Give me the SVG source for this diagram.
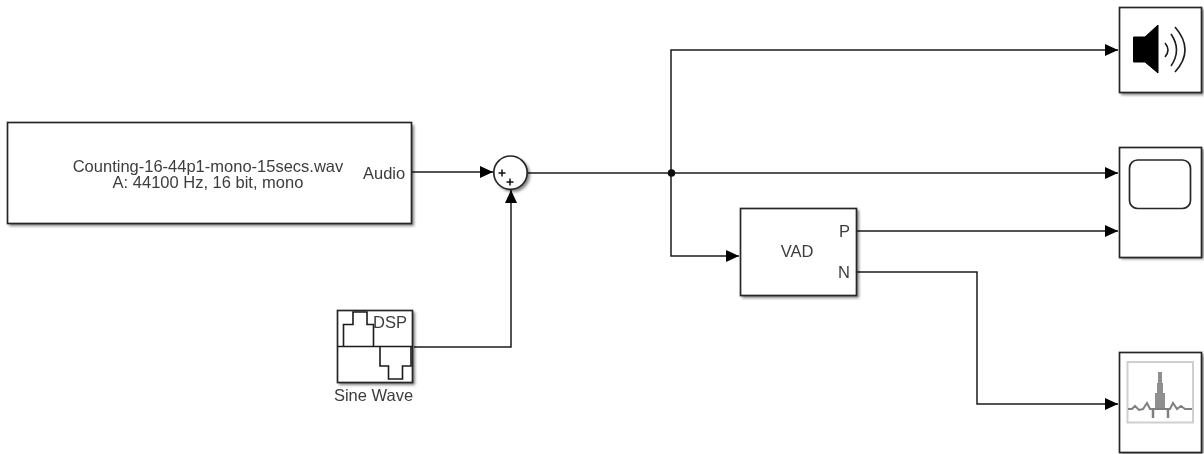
<svg xmlns="http://www.w3.org/2000/svg" width="1204" height="454" viewBox="0 0 1204 454">
<style>
.b{fill:#fff;stroke:#262626;stroke-width:1.7}
.s{fill:#000;opacity:.5;filter:url(#bl)}
.c{fill:none;stroke:#1a1a1a;stroke-width:1.5}
text{font-family:"Liberation Sans",Arial,sans-serif;font-size:16.5px;fill:#3c3c3c}
.m{text-anchor:middle}
.i{fill:none;stroke:#1a1a1a;stroke-width:1.6}
</style>
<defs>
<filter id="bl" x="-20%" y="-20%" width="140%" height="140%"><feGaussianBlur stdDeviation="1.8"/></filter>
<filter id="soft" x="0" y="0" width="1204" height="454" filterUnits="userSpaceOnUse"><feGaussianBlur stdDeviation="0.45"/></filter>
<marker id="a" markerWidth="14" markerHeight="13" refX="13" refY="6.500" orient="auto" markerUnits="userSpaceOnUse"><path d="M0 0.500L13 6.500L0 12.500Z" fill="#000"/></marker>
</defs>
<rect width="1204" height="454" fill="#fff"/>
<g filter="url(#soft)">
<g id="connectors">
<path class="c" d="M412 172H493" marker-end="url(#a)"/>
<path class="c" d="M414 347H511V190" marker-end="url(#a)"/>
<path class="c" d="M528 173H1118" marker-end="url(#a)"/>
<path class="c" d="M671 173V50H1118" marker-end="url(#a)"/>
<path class="c" d="M671 173V256H739" marker-end="url(#a)"/>
<path class="c" d="M857 231H1118" marker-end="url(#a)"/>
<path class="c" d="M857 272H977V404H1118" marker-end="url(#a)"/>
<circle cx="671.500" cy="173" r="3.800" fill="#111"/>
</g>
<g id="audio-source">
<rect class="s" x="9" y="125" width="405" height="101"/>
<rect class="b" x="7.500" y="122.500" width="404" height="101"/>
<text class="m" x="208" y="172">Counting-16-44p1-mono-15secs.wav</text>
<text class="m" x="208" y="188">A: 44100 Hz, 16 bit, mono</text>
<text x="363" y="179">Audio</text>
</g>
<g id="sum">
<circle class="s" cx="513" cy="175" r="17"/>
<circle cx="510.500" cy="172.700" r="16.700" fill="#fff" stroke="#262626" stroke-width="1.700"/>
<path d="M498.500 173h7M502 169.500v7M506.500 182h7M510 178.500v7" stroke="#111" stroke-width="1.500"/>
</g>
<g id="sine-wave">
<rect class="s" x="339" y="312" width="76" height="73"/>
<rect class="b" x="337.500" y="310.500" width="75" height="72"/>
<path class="i" d="M337.500 346.500H412.500"/>
<path class="i" d="M343.500 346V324.500H353V312H367V324.500H373.500V346"/>
<path class="i" d="M380 346V366H388.500V379H402.500V366H411V346"/>
<text x="373" y="328">DSP</text>
<text class="m" x="373.500" y="401">Sine Wave</text>
</g>
<g id="vad">
<rect class="s" x="742" y="210" width="117" height="88"/>
<rect class="b" x="740.500" y="208.500" width="116" height="87"/>
<text class="m" x="797" y="257">VAD</text>
<text x="839" y="237">P</text>
<text x="838" y="278">N</text>
</g>
<g id="audio-device">
<rect class="s" x="1121" y="9" width="83" height="86"/>
<rect class="b" x="1119.500" y="7.500" width="82" height="85"/>
<path d="M1133.500 37H1145L1158 25V73L1145 62H1133.500Z" fill="#000" stroke="#000" stroke-linejoin="round"/>
<path class="i" d="M1165 43Q1171 50 1165 57M1171 34Q1182 50 1171 66M1175 27Q1195 50 1175 72" stroke-width="2"/>
</g>
<g id="scope">
<rect class="s" x="1121" y="149" width="83" height="110"/>
<rect class="b" x="1119.500" y="147.500" width="82" height="110"/>
<rect x="1129.500" y="160" width="61" height="48.500" rx="8" fill="#fff" stroke="#262626" stroke-width="1.700"/>
</g>
<g id="spectrum">
<rect class="s" x="1121" y="354" width="83" height="100"/>
<rect class="b" x="1119.500" y="352.500" width="82" height="100"/>
<rect x="1127.500" y="362" width="65.500" height="60.500" fill="#fff" stroke="#cfcfcf" stroke-width="2"/>
<path d="M1155 409V393H1157V383H1158V372H1162V383H1163V393H1165V409Z" fill="#8f8f8f"/>
<path d="M1128 409L1132 409L1135 406L1139 410L1143 409L1147 403L1150 409H1170L1173 403L1177 409L1181 406L1185 409L1192 409" fill="none" stroke="#808080" stroke-width="2"/>
<path d="M1153 408V418M1168 408V418" stroke="#808080" stroke-width="2.500"/>
</g>
</g>
</svg>
